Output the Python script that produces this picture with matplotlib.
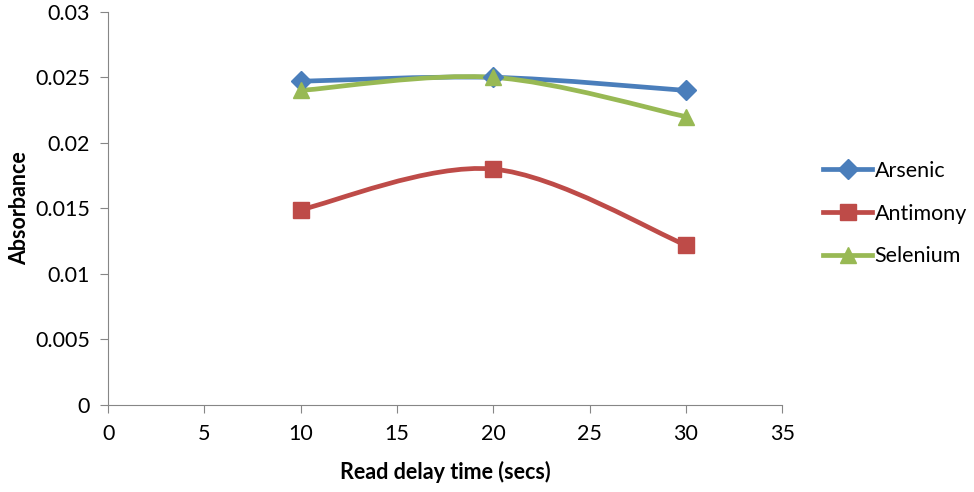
import numpy as np
import matplotlib
matplotlib.use("Agg")
import matplotlib.pyplot as plt
from matplotlib.path import Path as MPath
from matplotlib.patches import PathPatch
from matplotlib.lines import Line2D

plt.rcParams['font.family'] = ['Lato', 'DejaVu Sans']

delay_secs = [10, 20, 30]
arsenic = [0.0247, 0.0250, 0.0240]
antimony = [0.0149, 0.0180, 0.0122]
selenium = [0.0240, 0.0250, 0.0220]

series = [
    ("Arsenic", arsenic, "#4A7EBB", "D", 10),
    ("Antimony", antimony, "#BE4B48", "s", 11),
    ("Selenium", selenium, "#98B954", "^", 12),
]


def smooth_path(xs, ys):
    """Excel 風のスムージング (Bezier, tension 1/6)。"""
    pts = np.column_stack([xs, ys]).astype(float)
    n = len(pts)
    verts = [pts[0]]
    codes = [MPath.MOVETO]
    for i in range(n - 1):
        p_prev = pts[i - 1] if i > 0 else pts[i]
        p_next2 = pts[i + 2] if i + 2 < n else pts[i + 1]
        c1 = pts[i] + (pts[i + 1] - p_prev) / 6.0
        c2 = pts[i + 1] - (p_next2 - pts[i]) / 6.0
        verts += [c1, c2, pts[i + 1]]
        codes += [MPath.CURVE4] * 3
    return MPath(verts, codes)


FS = 15.5

fig = plt.figure(figsize=(9.74, 4.92), dpi=100)
ax = fig.add_axes([0.111, 0.177, 0.692, 0.799])

handles = []
for name, vals, color, marker, ms in series:
    ax.add_patch(PathPatch(smooth_path(delay_secs, vals), facecolor="none",
                           edgecolor=color, linewidth=3.4, capstyle="round",
                           joinstyle="round", zorder=2))
    ax.plot(delay_secs, vals, linestyle="none", marker=marker, markersize=ms,
            color=color, zorder=3)
    handles.append(Line2D([], [], color=color, linewidth=3.4, marker=marker,
                          markersize=ms, label=name))

ax.set_xlim(0, 35)
ax.set_ylim(0, 0.03)
ax.set_xticks(range(0, 36, 5))
ax.set_yticks([0, 0.005, 0.01, 0.015, 0.02, 0.025, 0.03])
ax.set_yticklabels(["0", "0.005", "0.01", "0.015", "0.02", "0.025", "0.03"])
for side in ("top", "right"):
    ax.spines[side].set_visible(False)
for side in ("left", "bottom"):
    ax.spines[side].set_color("#868686")
ax.tick_params(axis="both", colors="#868686", labelcolor="black",
               labelsize=FS, length=6, direction="out")
ax.tick_params(axis="x", pad=8)
ax.tick_params(axis="y", pad=7)

ax.set_xlabel("Read delay time (secs)", fontsize=FS, fontweight="bold",
              labelpad=12)
ax.set_ylabel("Absorbance", fontsize=FS, fontweight="bold", labelpad=4)

fig.legend(handles=handles, loc="center left", bbox_to_anchor=(0.836, 0.566),
           frameon=False, fontsize=FS, handlelength=2.3, labelspacing=1.05,
           handletextpad=0.1, borderaxespad=0)

fig.savefig("out.png", dpi=100)
